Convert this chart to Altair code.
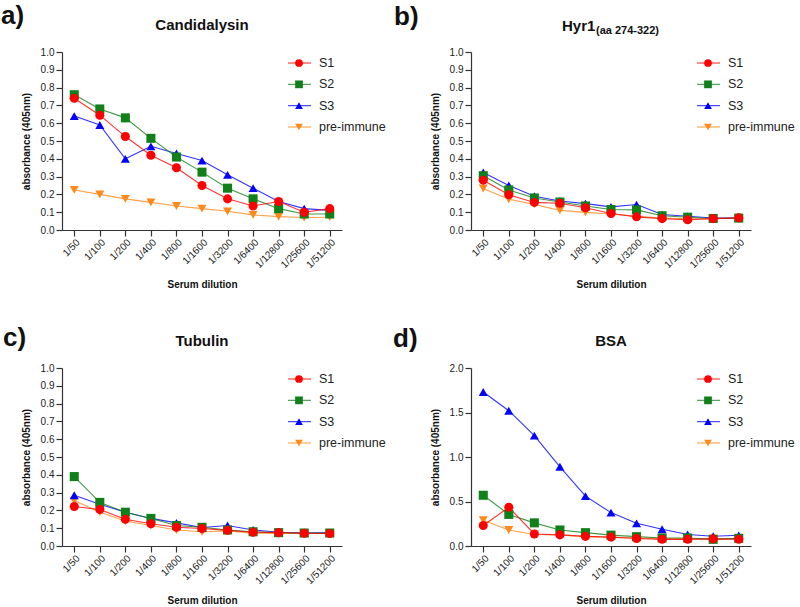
import altair as alt
import pandas as pd

# Shared categories
DILUTIONS = ["1/50", "1/100", "1/200", "1/400", "1/800", "1/1600",
             "1/3200", "1/6400", "1/12800", "1/25600", "1/51200"]
SERIES = ["S1", "S2", "S3", "pre-immune"]
COLORS = ["#ff0000", "#12801a", "#0000ff", "#ff8a1c"]
SHAPES = ["circle", "square", "triangle-up", "triangle-down"]

# a) Candidalysin
CAND_S1 = [0.74, 0.645, 0.525, 0.42, 0.35, 0.25, 0.175, 0.135, 0.16, 0.10, 0.12]
CAND_S2 = [0.76, 0.68, 0.63, 0.515, 0.41, 0.325, 0.235, 0.175, 0.12, 0.09, 0.09]
CAND_S3 = [0.64, 0.59, 0.40, 0.47, 0.43, 0.39, 0.31, 0.235, 0.16, 0.12, 0.11]
CAND_PRE = [0.225, 0.20, 0.175, 0.155, 0.135, 0.12, 0.105, 0.085, 0.075, 0.07, 0.072]

# b) Hyr1 (aa 274-322)
HYR_S1 = [0.28, 0.198, 0.155, 0.15, 0.125, 0.093, 0.074, 0.064, 0.058, 0.064, 0.068]
HYR_S2 = [0.305, 0.225, 0.18, 0.157, 0.135, 0.115, 0.113, 0.08, 0.072, 0.065, 0.067]
HYR_S3 = [0.323, 0.25, 0.19, 0.163, 0.148, 0.13, 0.143, 0.087, 0.077, 0.067, 0.067]
HYR_PRE = [0.233, 0.173, 0.144, 0.11, 0.099, 0.09, 0.077, 0.067, 0.063, 0.063, 0.067]

# c) Tubulin
TUB_S1 = [0.222, 0.205, 0.15, 0.125, 0.105, 0.098, 0.088, 0.077, 0.075, 0.072, 0.07]
TUB_S2 = [0.39, 0.245, 0.19, 0.155, 0.115, 0.105, 0.09, 0.08, 0.075, 0.073, 0.073]
TUB_S3 = [0.285, 0.235, 0.19, 0.155, 0.13, 0.104, 0.115, 0.09, 0.077, 0.073, 0.075]
TUB_PRE = [0.255, 0.19, 0.14, 0.115, 0.09, 0.08, 0.085, 0.072, 0.07, 0.07, 0.07]

# d) BSA
BSA_S1 = [0.23, 0.435, 0.135, 0.125, 0.108, 0.10, 0.085, 0.075, 0.075, 0.08, 0.075]
BSA_S2 = [0.57, 0.355, 0.26, 0.18, 0.15, 0.122, 0.105, 0.09, 0.09, 0.075, 0.086]
BSA_S3 = [1.73, 1.52, 1.24, 0.89, 0.56, 0.375, 0.255, 0.188, 0.13, 0.11, 0.12]
BSA_PRE = [0.29, 0.18, 0.13, 0.124, 0.105, 0.098, 0.09, 0.083, 0.083, 0.083, 0.083]

FONT = "Liberation Sans"
W, H = 280, 178

color_enc = alt.Color("series:N", scale=alt.Scale(domain=SERIES, range=COLORS), legend=None)
shape_enc = alt.Shape("series:N", scale=alt.Scale(domain=SERIES, range=SHAPES), legend=None)


def text_layer(label, x, y, size, weight="bold", align="left"):
    return alt.Chart(pd.DataFrame({"t": [label]})).mark_text(
        align=align, baseline="alphabetic", font=FONT, fontSize=size,
        fontWeight=weight, color="#111111"
    ).encode(text="t:N", x=alt.value(x), y=alt.value(y))


def panel(tag, tag_pos, title, series_values, ymax, ystep, sub=None):
    rows = []
    # pre-immune first so S1 markers end up on top
    for name, vals in reversed(list(zip(SERIES, series_values))):
        for d, v in zip(DILUTIONS, vals):
            rows.append({"series": name, "dilution": d, "value": v})
    df = pd.DataFrame(rows)

    n_ticks = int(round(ymax / ystep)) + 1
    ticks = [round(i * ystep, 2) for i in range(n_ticks)]

    x = alt.X("dilution:O",
              scale=alt.Scale(type="point", domain=DILUTIONS, padding=0.48),
              axis=alt.Axis(title="Serum dilution", labelAngle=-45,
                            labelAlign="right", labelBaseline="top",
                            labelPadding=1, titlePadding=10))
    y = alt.Y("value:Q",
              scale=alt.Scale(domain=[0, ymax], nice=False, zero=True),
              axis=alt.Axis(title="absorbance (405nm)", values=ticks,
                            format=".1f", titlePadding=9))

    base = alt.Chart(df).encode(x=x, y=y, color=color_enc, detail="series:N")
    data_layer = alt.layer(
        base.mark_line(strokeWidth=1.1, opacity=0.8),
        base.mark_point(filled=True, size=82, opacity=1).encode(shape=shape_enc),
    )

    # in-plot key: short line, marker and name for each series
    leg = pd.DataFrame({"series": SERIES})
    ly = alt.Y("series:N",
               scale=alt.Scale(type="point", domain=SERIES, range=[11, 75], padding=0),
               axis=None)
    key_layer = alt.layer(
        alt.Chart(leg).mark_rule(strokeWidth=1.1, opacity=0.8).encode(
            x=alt.value(226), x2=alt.value(249), y=ly, color=color_enc),
        alt.Chart(leg).mark_point(filled=True, size=60, opacity=1).encode(
            x=alt.value(237), y=ly, color=color_enc, shape=shape_enc),
        alt.Chart(leg).mark_text(
            align="left", baseline="middle", font=FONT, fontSize=12.5, color="#222222"
        ).encode(x=alt.value(257), y=ly, text="series:N"),
    )

    layers = [data_layer, key_layer]
    if sub is None:
        layers.append(text_layer(title, W / 2, -22, 15, align="center"))
    else:
        layers.append(text_layer(title, 91, -21, 15))
        layers.append(text_layer(sub, 125, -18, 11))
    layers.append(text_layer(tag, tag_pos[0], tag_pos[1], 26))

    return alt.layer(*layers).resolve_scale(y="independent").properties(width=W, height=H)


pa = panel("a)", (-61, -28), "Candidalysin", [CAND_S1, CAND_S2, CAND_S3, CAND_PRE], 1.0, 0.1)
pb = panel("b)", (-77, -27), "Hyr1", [HYR_S1, HYR_S2, HYR_S3, HYR_PRE], 1.0, 0.1,
           sub="(aa 274-322)")
pc = panel("c)", (-59, -22), "Tubulin", [TUB_S1, TUB_S2, TUB_S3, TUB_PRE], 1.0, 0.1)
pd_ = panel("d)", (-78, -21), "BSA", [BSA_S1, BSA_S2, BSA_S3, BSA_PRE], 2.0, 0.5)

chart = alt.concat(
    pa, pb, pc, pd_, columns=2,
    spacing={"row": 138, "column": 129}, bounds="flush",
).properties(
    padding={"left": 1, "top": 3, "right": 5, "bottom": 5},
    background="white",
).configure_view(stroke=None).configure_axis(
    domainColor="#333333", domainWidth=1.2, tickColor="#333333", tickWidth=1.2,
    tickSize=6, labelColor="#222222", labelFont=FONT, labelFontSize=10,
    titleFont=FONT, titleFontSize=10, titleFontWeight="bold", titleColor="#111111",
    grid=False,
)

chart.save("out.html", embed_options={"renderer": "svg", "actions": False})
